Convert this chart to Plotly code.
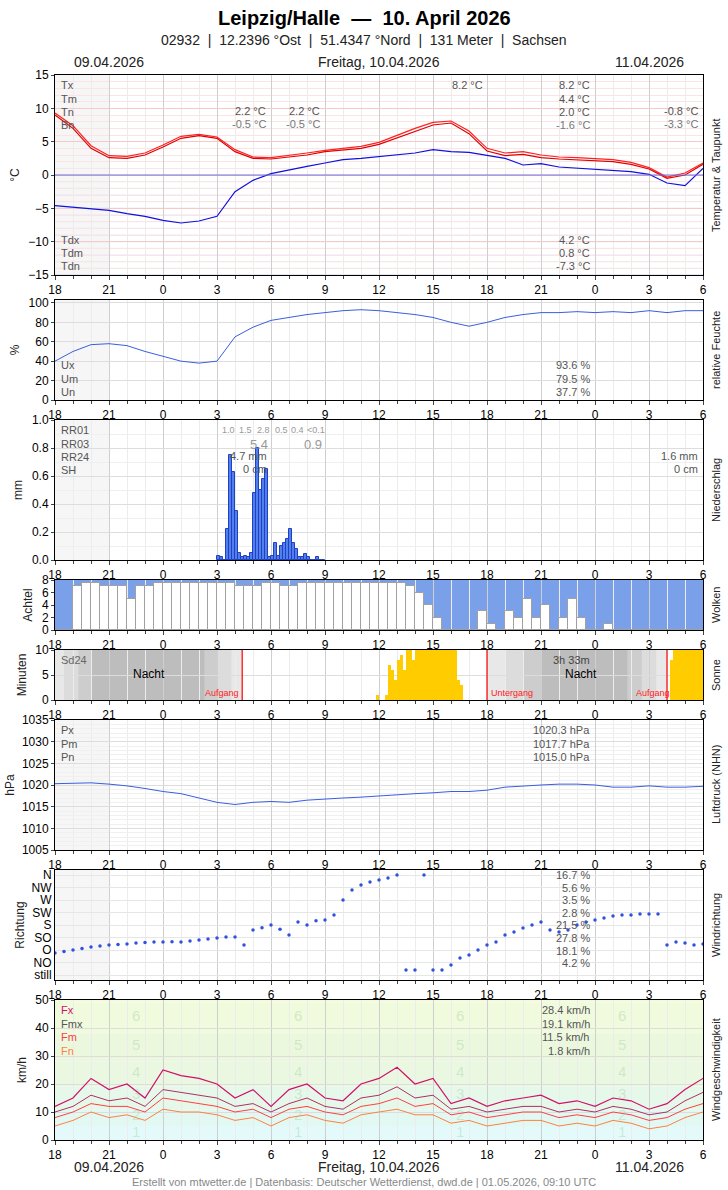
import plotly.graph_objects as go

W, H = 728, 1190
FONT = "Liberation Sans, Arial, sans-serif"

# ---------- data (x = hours since 09.04. 18:00 UTC) ----------
hours = list(range(37))
tick_vals = list(range(0, 37, 3))
tick_text = ["18", "21", "0", "3", "6", "9", "12", "15", "18", "21", "0", "3", "6"]

temp_a = [9.0, 7.0, 4.0, 2.6, 2.5, 3.0, 4.2, 5.5, 5.9, 5.5, 3.5, 2.5, 2.4, 2.7, 3.0, 3.5, 3.8, 4.0, 4.6, 5.6, 6.6, 7.5, 7.8, 6.2, 3.6, 2.9, 3.1, 2.6, 2.4, 2.3, 2.2, 2.0, 1.6, 0.9, -0.5, 0.0, 1.6]
temp_b = [9.3, 7.4, 4.4, 2.9, 2.8, 3.3, 4.5, 5.8, 6.1, 5.7, 3.8, 2.7, 2.6, 2.9, 3.3, 3.7, 4.0, 4.3, 4.9, 6.0, 7.0, 7.9, 8.1, 6.6, 4.0, 3.3, 3.5, 3.0, 2.7, 2.6, 2.5, 2.3, 1.9, 1.1, -0.3, 0.3, 1.8]
dew = [-4.6, -4.8, -5.0, -5.3, -5.8, -6.2, -6.8, -7.2, -6.9, -6.2, -2.5, -0.8, 0.2, 0.8, 1.3, 1.8, 2.3, 2.5, 2.8, 3.0, 3.3, 3.8, 3.5, 3.4, 3.0, 2.5, 1.5, 1.7, 1.2, 1.0, 0.8, 0.6, 0.5, 0.1, -1.2, -1.6, 1.0]

hum = [40, 50, 57, 58, 56, 50, 45, 40, 38, 40, 65, 75, 82, 85, 88, 90, 92, 93, 92, 90, 88, 85, 80, 76, 80, 85, 88, 90, 90, 91, 90, 91, 90, 92, 90, 92, 92]

rain_x = [9 + i / 6 for i in range(36)]
rain = [0.03, 0.02, 0, 0.22, 0.75, 0.63, 0.35, 0.05, 0.02, 0.03, 0.02, 0.05, 0.48, 0.8, 0.5, 0.58, 0.65, 0.02,
        0.03, 0.12, 0.03, 0.1, 0.12, 0.15, 0.22, 0.12, 0.08, 0.02, 0.02, 0.04, 0.02, 0, 0, 0.02, 0, 0]

cloud_x = [i * 0.5 for i in range(73)]
cloud = [8, 8, 1, 0.5, 0.5, 1, 1, 1, 3, 1, 1, 0.5, 0.5, 0.5, 0.5, 0.5, 0.5, 0.5, 0.5, 0.5, 1, 1, 1, 0.5, 0.5, 1, 1, 0.5,
         0.5, 0.5, 0.5, 0.5, 0.5, 0.5, 0.5, 0.5, 0.5, 0.5, 0.5, 1, 2, 4, 6, 8, 8, 8, 8, 5, 7, 8, 5, 6, 3, 6, 4,
         8, 6, 3, 6, 8, 8, 7, 8, 8, 8, 8, 8, 8, 8, 8, 8, 8, 8]

sun_x = [17 + 5 / 6 + i / 6 for i in range(29)] + [34 + 1 / 6 + i / 6 for i in range(11)]
sun = [1, 0, 0, 1, 7, 6, 4, 8, 9, 6, 10, 10, 8, 10, 10, 10, 10, 10, 10, 10, 10, 10, 10, 10, 10, 10, 10, 4, 3] + [8] + [10] * 10

press = [1020.3, 1020.4, 1020.5, 1020.2, 1019.8, 1019.2, 1018.5, 1018.0, 1017.0, 1016.0, 1015.5, 1016.0, 1016.2, 1016.0, 1016.5, 1016.8, 1017.0, 1017.2, 1017.5, 1017.8, 1018.0, 1018.2, 1018.5, 1018.5, 1018.8, 1019.5, 1019.8, 1020.0, 1020.2, 1020.2, 1020.0, 1019.5, 1019.5, 1019.8, 1019.5, 1019.5, 1019.7]

dir_x = [i * 0.5 for i in range(73)]
wind_dir = [79, 85, 90, 95, 101, 104, 108, 110, 112, 115, 117, 119, 119, 120, 119, 122, 126, 130, 133, 137, 137, 108, 162, 170,
            180, 165, 144, 191, 180, 195, 198, 216, 270, 306, 324, 335, 342, 349, 360, 18, 18, 360, 18, 18, 36, 61, 72, 90,
            108, 119, 144, 155, 169, 180, 191, 162, 155, 162, 180, 191, 198, 205, 212, 216, 216, 220, 220, 220, 108, 119, 115, 108, 112]
dir_labels = ["still", "NO", "O", "SO", "S", "SW", "W", "NW", "N"]

fx = [12, 15, 22, 18, 20, 15, 25, 23, 22, 20, 15, 18, 12, 18, 20, 15, 14, 20, 22, 26, 20, 22, 13, 15, 12, 14, 15, 16, 13, 14, 12, 15, 14, 11, 13, 18, 22]
fmx = [10, 12, 16, 14, 15, 12, 18, 17, 16, 15, 12, 13, 10, 13, 15, 12, 11, 15, 16, 19, 15, 16, 11, 12, 10, 11, 12, 12, 10, 11, 10, 12, 11, 9, 10, 14, 17]
fm = [8, 10, 13, 12, 12, 10, 15, 14, 13, 12, 10, 11, 8, 11, 12, 10, 9, 12, 13, 15, 12, 13, 9, 10, 8, 9, 10, 10, 8, 9, 8, 10, 9, 7, 8, 11, 13]
fn = [5, 7, 10, 8, 9, 7, 11, 10, 10, 9, 7, 8, 5, 8, 9, 7, 6, 9, 10, 11, 9, 9, 6, 7, 5, 6, 7, 7, 5, 6, 5, 7, 6, 4, 5, 8, 10]

# ---------- layout helpers ----------
X0, X1 = 55, 703
panels = {  # n: (top px, bottom px, yrange)
    1: (75, 275, [-15, 15]),
    2: (300, 400, [0, 103]),
    3: (420, 560, [0, 1.0]),
    4: (580, 630, [0, 8]),
    5: (650, 700, [0, 10]),
    6: (720, 850, [1005, 1035]),
    7: (870, 980, [-0.4, 8.4]),
    8: (1000, 1140, [0, 50]),
}

def px(x): return x / W
def py(y): return 1 - y / H

fig = go.Figure()
layout = dict(width=W, height=H, margin=dict(l=0, r=0, t=0, b=0, autoexpand=False), paper_bgcolor="white",
              plot_bgcolor="white", showlegend=False, font=dict(family=FONT, size=12, color="#000"),
              bargap=0)
shapes, annos = [], []

for n, (t, b, yr) in panels.items():
    sx = "" if n == 1 else str(n)
    layout["xaxis" + sx] = dict(domain=[px(X0), px(X1)], anchor="y" + sx, range=[0, 36], automargin=False,
                                tickvals=tick_vals, ticktext=tick_text, ticks="outside", ticklen=4,
                                showgrid=True, gridcolor="#cfcfcf", showline=True, linecolor="#000", mirror=True,
                                zeroline=False, tickfont=dict(size=12),
                                minor=dict(dtick=1, ticks="outside", ticklen=3, showgrid=True, gridcolor="#ececec"))
    layout["yaxis" + sx] = dict(domain=[py(b), py(t)], anchor="x" + sx, range=yr, showline=True, automargin=False,
                                linecolor="#000", mirror=True, zeroline=False, ticks="outside", ticklen=3,
                                gridcolor="#dddddd", tickfont=dict(size=12))

def ytitle(s, so=6):
    return dict(text=s, standoff=so, font=dict(size=12, color="#222"))

layout["yaxis"].update(dtick=5, title=ytitle("°C"), gridcolor="#f6c8c8",
                       minor=dict(dtick=1, showgrid=True, gridcolor="#fbe4e4"))
layout["yaxis2"].update(tickvals=[0, 20, 40, 60, 80, 100], title=ytitle("%"))
layout["yaxis3"].update(dtick=0.2, tickformat=".1f", title=ytitle("mm"),
                        minor=dict(dtick=0.1, showgrid=True, gridcolor="#efefef"))
layout["yaxis4"].update(dtick=2, title=ytitle("Achtel"), showgrid=False)
layout["yaxis5"].update(dtick=5, title=ytitle("Minuten"))
layout["yaxis6"].update(dtick=5, title=ytitle("hPa", 4), minor=dict(dtick=1, showgrid=True, gridcolor="#f0f0f0"))
layout["yaxis7"].update(tickvals=list(range(9)), ticktext=dir_labels, title=ytitle("Richtung", 4),
                        ticks="", gridcolor="#e6e6e6")
layout["yaxis8"].update(dtick=10, title=ytitle("km/h"))

# temperature panel: blue grid below zero
for v in range(-15, 0):
    shapes.append(dict(type="line", xref="x", yref="y", x0=0, x1=36, y0=v, y1=v, layer="below",
                       line=dict(color="#c8c8f4" if v % 5 == 0 else "#e6e6fa", width=1)))
shapes.append(dict(type="line", xref="x", yref="y", x0=0, x1=36, y0=0, y1=0, line=dict(color="#7070e0", width=1)))
# gray preceding-day shading
for n in [1, 2, 3, 6, 7]:
    sx = "" if n == 1 else str(n)
    shapes.append(dict(type="rect", xref="x" + sx, yref="y" + sx + " domain", x0=0, x1=3, y0=0, y1=1,
                       fillcolor="rgba(0,0,0,0.035)", line=dict(width=0), layer="below"))

fig.add_trace(go.Scatter(x=hours, y=temp_b, mode="lines", line=dict(color="#ff2020", width=1.2), xaxis="x", yaxis="y"))
fig.add_trace(go.Scatter(x=hours, y=temp_a, mode="lines", line=dict(color="#e00000", width=1.2), xaxis="x", yaxis="y"))
fig.add_trace(go.Scatter(x=hours, y=dew, mode="lines", line=dict(color="#1010e0", width=1.2), xaxis="x", yaxis="y"))

fig.add_trace(go.Scatter(x=hours, y=hum, mode="lines", line=dict(color="#3a5ee0", width=1), xaxis="x2", yaxis="y2"))

fig.add_trace(go.Bar(x=rain_x, y=rain, width=1 / 6, offset=0, marker=dict(color="#5080f0", line=dict(color="#2040c0", width=1)),
                     xaxis="x3", yaxis="y3"))

# clouds: blue background, white bars for clear part
shapes.append(dict(type="rect", xref="x4", yref="y4", x0=0, x1=36, y0=0, y1=8, fillcolor="#7aa0ea", line=dict(width=0), layer="below"))
fig.add_trace(go.Bar(x=cloud_x, y=[8 - c for c in cloud], width=0.5, offset=0,
                     marker=dict(color="white", line=dict(color="#a0a0a0", width=1)), xaxis="x4", yaxis="y4"))

# sun panel: night shading
for (a, b_, c) in [(0, 10.4, "#e8e8e8"), (0.5, 9.8, "#dcdcdc"), (1.3, 9.0, "#cdcdcd"), (2.0, 8.3, "#bdbdbd"),
                   (24, 34.0, "#e8e8e8"), (25.0, 33.4, "#dcdcdc"), (26.0, 32.6, "#cdcdcd"), (27.0, 31.8, "#bdbdbd")]:
    shapes.append(dict(type="rect", xref="x5", yref="y5", x0=a, x1=b_, y0=0, y1=10, fillcolor=c, line=dict(width=0), layer="below"))
for xv in [10.4, 24, 34.0]:
    shapes.append(dict(type="line", xref="x5", yref="y5", x0=xv, x1=xv, y0=0, y1=10, line=dict(color="#ff0000", width=1.2)))
fig.add_trace(go.Bar(x=sun_x, y=sun, width=1 / 6, offset=0, marker=dict(color="#ffcc00", line=dict(width=0)), xaxis="x5", yaxis="y5"))

fig.add_trace(go.Scatter(x=hours, y=press, mode="lines", line=dict(color="#3a5ee0", width=1), xaxis="x6", yaxis="y6"))

fig.add_trace(go.Scatter(x=dir_x, y=[d / 45 for d in wind_dir], mode="markers", marker=dict(color="#3050e0", size=3.5),
                         xaxis="x7", yaxis="y7"))

# wind: beaufort bands
for (a, b_, c) in [(0, 5, "#e4fafa"), (5, 11, "#e2f8f2"), (11, 19, "#e6f8ea"), (19, 28, "#eaf8e2"),
                   (28, 38, "#ecf8de"), (38, 49, "#f0fadc"), (49, 50, "#f4fadc")]:
    shapes.append(dict(type="rect", xref="x8", yref="y8", x0=0, x1=36, y0=a, y1=b_, fillcolor=c, line=dict(width=0), layer="below"))
bft = [(1, 3), (2, 9), (3, 16.5), (4, 24.5), (5, 34), (6, 44.5)]
for xc in [4.5, 13.5, 22.5, 31.5]:
    for bf, yv in bft:
        annos.append(dict(xref="x8", yref="y8", x=xc, y=yv, text=str(bf), showarrow=False,
                          font=dict(size=15, color="rgba(150,200,150,0.35)", family=FONT)))
fig.add_trace(go.Scatter(x=hours, y=fn, mode="lines", line=dict(color="#ff8040", width=1), xaxis="x8", yaxis="y8"))
fig.add_trace(go.Scatter(x=hours, y=fm, mode="lines", line=dict(color="#ff4040", width=1), xaxis="x8", yaxis="y8"))
fig.add_trace(go.Scatter(x=hours, y=fmx, mode="lines", line=dict(color="#b03060", width=1), xaxis="x8", yaxis="y8"))
fig.add_trace(go.Scatter(x=hours, y=fx, mode="lines", line=dict(color="#d0106a", width=1.2), xaxis="x8", yaxis="y8"))

# ---------- texts ----------
def txt(x, y, s, size=11, color="#555", anchor="left", bold=False):
    annos.append(dict(xref="paper", yref="paper", x=px(x), y=py(y), text=("<b>%s</b>" % s) if bold else s,
                      showarrow=False, xanchor=anchor, yanchor="middle", font=dict(size=size, color=color, family=FONT)))

txt(364, 18, "Leipzig/Halle  —  10. April 2026", 20, "#000", "center", True)
txt(364, 40, "02932  |  12.2396 °Ost  |  51.4347 °Nord  |  131 Meter  |  Sachsen", 14, "#222", "center")
for yy in [62, 1167]:
    txt(109, yy, "09.04.2026", 14, "#222", "center")
    txt(379, yy, "Freitag, 10.04.2026", 14, "#222", "center")
    txt(649, yy, "11.04.2026", 14, "#222", "center")
txt(364, 1182, "Erstellt von mtwetter.de | Datenbasis: Deutscher Wetterdienst, dwd.de | 01.05.2026, 09:10 UTC", 11, "#888", "center")

for i, s in enumerate(["Tx", "Tm", "Tn", "Bn"]):
    txt(59, 85 + 13.5 * i, s)
for i, s in enumerate(["Tdx", "Tdm", "Tdn"]):
    txt(59, 240 + 13 * i, s)
txt(268, 111, "2.2 °C", anchor="right"); txt(268, 124, "-0.5 °C", 11, "#777", "right")
txt(322, 111, "2.2 °C", anchor="right"); txt(322, 124, "-0.5 °C", 11, "#777", "right")
txt(485, 85, "8.2 °C", anchor="right")
for i, s in enumerate(["8.2 °C", "4.4 °C", "2.0 °C", "-1.6 °C"]):
    txt(592, 85 + 13.5 * i, s, 11, "#555" if i < 3 else "#777", "right")
txt(700, 111, "-0.8 °C", anchor="right"); txt(700, 124, "-3.3 °C", 11, "#777", "right")
for i, s in enumerate(["4.2 °C", "0.8 °C", "-7.3 °C"]):
    txt(592, 240 + 13 * i, s, anchor="right")

for i, (a, b_) in enumerate([("Ux", "93.6 %"), ("Um", "79.5 %"), ("Un", "37.7 %")]):
    txt(59, 365 + 13.5 * i, a); txt(592, 365 + 13.5 * i, b_, anchor="right")

for i, s in enumerate(["RR01", "RR03", "RR24", "SH"]):
    txt(59, 430 + 13.5 * i, s)
for xx, s in [(228, "1.0"), (245, "1.5"), (263, "2.8"), (281, "0.5"), (297, "0.4"), (316, "<0.1")]:
    txt(xx, 430, s, 9, "#999", "center")
txt(270, 444, "5.4", 13, "#999", "right"); txt(324, 444, "0.9", 13, "#999", "right")
txt(269, 456, "4.7 mm", 11, "#555", "right"); txt(269, 469, "0 cm", 11, "#555", "right")
txt(700, 456, "1.6 mm", 11, "#555", "right"); txt(700, 469, "0 cm", 11, "#555", "right")

txt(59, 660, "Sd24", 11, "#666")
txt(149, 674, "Nacht", 12, "#000", "center")
txt(581, 674, "Nacht", 12, "#000", "center")
txt(592, 660, "3h 33m", 11, "#444", "right")
txt(241, 693, "Aufgang", 9, "#ff2020", "right")
txt(489, 693, "Untergang", 9, "#ff2020", "left")
txt(672, 693, "Aufgang", 9, "#ff2020", "right")

for i, (a, b_) in enumerate([("Px", "1020.3 hPa"), ("Pm", "1017.7 hPa"), ("Pn", "1015.0 hPa")]):
    txt(59, 730 + 13.5 * i, a); txt(592, 730 + 13.5 * i, b_, anchor="right")

for i, s in enumerate(["16.7 %", "5.6 %", "3.5 %", "2.8 %", "21.5 %", "27.8 %", "18.1 %", "4.2 %"]):
    txt(592, 875 + 12.6 * i, s, anchor="right")

for i, (a, c) in enumerate([("Fx", "#d0106a"), ("Fmx", "#555"), ("Fm", "#ff4040"), ("Fn", "#ff8040")]):
    txt(59, 1010 + 13.5 * i, a, 11, c)
for i, s in enumerate(["28.4 km/h", "19.1 km/h", "11.5 km/h", "1.8 km/h"]):
    txt(592, 1010 + 13.5 * i, s, anchor="right")

for yc, s in [(175, "Temperatur & Taupunkt"), (350, "relative Feuchte"), (490, "Niederschlag"), (605, "Wolken"),
              (675, "Sonne"), (785, "Luftdruck (NHN)"), (925, "Windrichtung"), (1070, "Windgeschwindigkeit")]:
    annos.append(dict(xref="paper", yref="paper", x=px(716), y=py(yc), xanchor="center", yanchor="middle",
                      text=s, textangle=-90, showarrow=False,
                      font=dict(size=11, color="#222", family=FONT)))

layout["shapes"] = shapes
layout["annotations"] = annos
fig.update_layout(**layout)
fig.write_html("out.html", config={"displayModeBar": False},
               post_script="document.body.style.margin='0';document.body.style.overflow='hidden';")
